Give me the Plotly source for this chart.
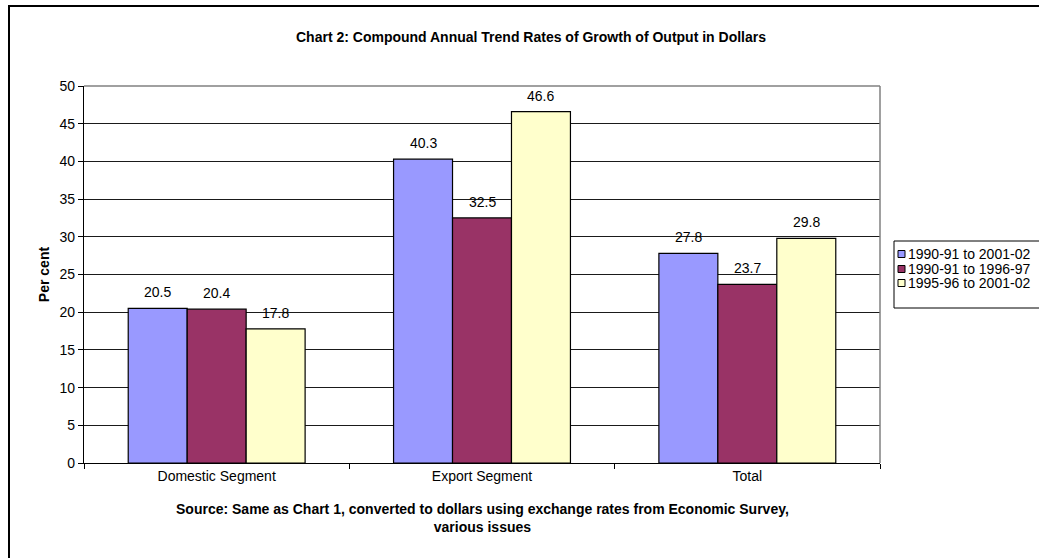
import plotly.graph_objects as go

# Data
categories = ["Domestic Segment", "Export Segment", "Total"]
series_names = ["1990-91 to 2001-02", "1990-91 to 1996-97", "1995-96 to 2001-02"]
vals_1990_2002 = [20.5, 40.3, 27.8]
vals_1990_1997 = [20.4, 32.5, 23.7]
vals_1995_2002 = [17.8, 46.6, 29.8]
series_values = [vals_1990_2002, vals_1990_1997, vals_1995_2002]
series_colors = ["#9999FF", "#993366", "#FFFFCC"]
y_ticks = [0, 5, 10, 15, 20, 25, 30, 35, 40, 45, 50]

FONT = "Liberation Sans, Arial, sans-serif"
W, H = 1039, 558
L, R, T, B = 84, 159, 86, 95
plot_w = W - L - R
plot_h = H - T - B


def px_x(p):
    return (p - L) / plot_w


def px_y(p):
    return (H - B - p) / plot_h


bargap = 1 / 3
n = len(series_values)
bar_w = (1 - bargap) / n
xs = list(range(len(categories)))

fig = go.Figure()
annotations = []
for k, (name, vals, color) in enumerate(zip(series_names, series_values, series_colors)):
    off = (k - (n - 1) / 2) * bar_w
    fig.add_trace(go.Bar(
        name=name,
        x=[x + off for x in xs],
        y=vals,
        width=bar_w,
        marker=dict(color=color, line=dict(color="black", width=1.2)),
        showlegend=False,
    ))
    for x, v in zip(xs, vals):
        annotations.append(dict(
            x=x + off, y=v, xref="x", yref="y",
            text=f"{v:.1f}", showarrow=False,
            yanchor="middle", yshift=16,
            font=dict(family=FONT, size=14, color="black"),
        ))

# source note under the category axis
annotations.append(dict(
    x=0.5, y=(0 - 55) / plot_h, xref="paper", yref="paper",
    text="<b>Source: Same as Chart 1, converted to dollars using exchange rates from Economic Survey,<br>various issues</b>",
    showarrow=False, xanchor="center", yanchor="middle",
    font=dict(family=FONT, size=14, color="black"),
))

shapes = [
    # outer chart frame
    dict(type="rect", xref="paper", yref="paper",
         x0=px_x(9), x1=px_x(1060), y0=px_y(575), y1=px_y(6),
         line=dict(color="black", width=2), layer="above"),
    # plot-area border, top and right
    dict(type="line", xref="paper", yref="paper", x0=0, x1=1, y0=1, y1=1,
         line=dict(color="#808080", width=1.5), layer="above"),
    dict(type="line", xref="paper", yref="paper", x0=1, x1=1, y0=0, y1=1,
         line=dict(color="#808080", width=1.5), layer="above"),
    # legend box
    dict(type="rect", xref="paper", yref="paper",
         x0=px_x(894), x1=px_x(1050), y0=px_y(308), y1=px_y(241),
         line=dict(color="black", width=1), fillcolor="white", layer="above"),
]

# legend entries: small swatch + label
legend_rows = [254, 269, 283]
for name, color, row in zip(series_names, series_colors, legend_rows):
    shapes.append(dict(
        type="rect", xref="paper", yref="paper",
        x0=px_x(898), x1=px_x(905), y0=px_y(row + 3.5), y1=px_y(row - 3.5),
        line=dict(color="black", width=1), fillcolor=color, layer="above",
    ))
    annotations.append(dict(
        x=px_x(906), y=px_y(row), xref="paper", yref="paper",
        text=name, showarrow=False, xanchor="left", yanchor="middle",
        font=dict(family=FONT, size=14, color="black"),
    ))

fig.update_layout(
    width=W, height=H,
    margin=dict(l=L, r=R, t=T, b=B, autoexpand=False),
    paper_bgcolor="white", plot_bgcolor="white",
    barmode="overlay",
    showlegend=False,
    font=dict(family=FONT, size=14, color="black"),
    title=dict(
        text="<b>Chart 2: Compound Annual Trend Rates of Growth of Output in Dollars</b>",
        xref="paper", x=px_x(531), xanchor="center",
        yref="container", y=1 - 37 / H, yanchor="middle",
        font=dict(family=FONT, size=14, color="black"),
    ),
    xaxis=dict(
        range=[-0.5, 2.5],
        tickvals=xs, ticktext=categories,
        ticks="", showgrid=False,
        showline=True, linecolor="black", linewidth=1.2,
        zeroline=False,
        tickfont=dict(family=FONT, size=14, color="black"),
        minor=dict(tickvals=[-0.5, 0.5, 1.5, 2.5], ticks="outside",
                   ticklen=5, tickcolor="black", tickwidth=1, showgrid=False),
    ),
    yaxis=dict(
        range=[0, 50],
        tickvals=y_ticks,
        ticks="outside", ticklen=5, tickcolor="black", tickwidth=1,
        showgrid=True, gridcolor="#1a1a1a", gridwidth=1,
        showline=True, linecolor="black", linewidth=1.2,
        zeroline=False,
        tickfont=dict(family=FONT, size=14, color="black"),
        title=dict(text="<b>Per cent</b>", standoff=6,
                   font=dict(family=FONT, size=14, color="black")),
    ),
    annotations=annotations,
    shapes=shapes,
)

fig.write_html("out.html")
